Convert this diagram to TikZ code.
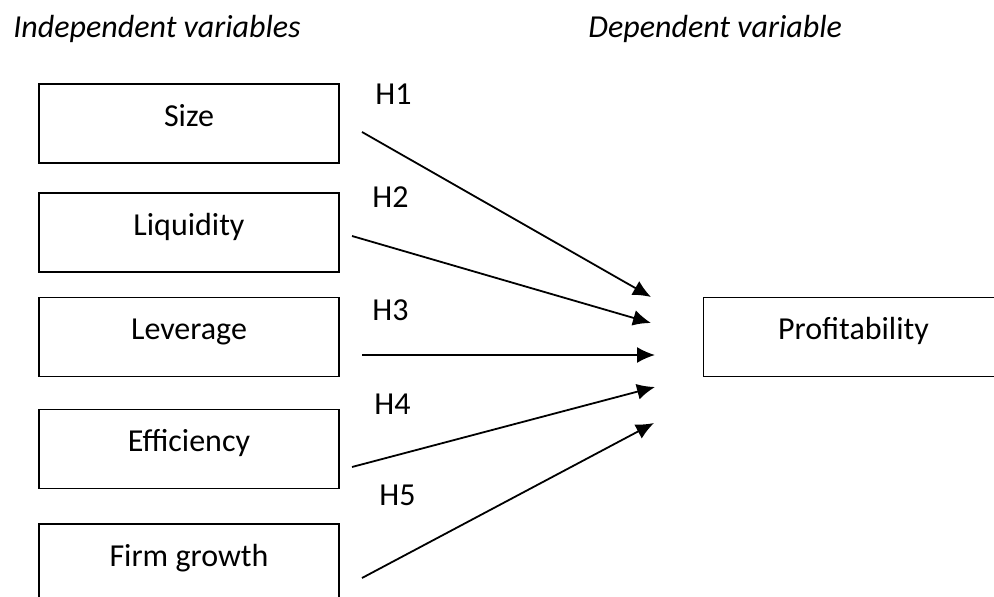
\documentclass[tikz,border=0pt]{standalone}
\usepackage{fontspec}
\setmainfont{Carlito}
\usetikzlibrary{arrows.meta}
\begin{document}
\begin{tikzpicture}[x=0.5pt,y=-0.5pt]
        \tikzset{
          varbox/.style={draw,line width=0.9pt,inner sep=0mm,
            minimum width=150pt,minimum height=39.5pt,
            text height=10.5pt,text depth=7.5pt,font=\fontsize{16}{19}\selectfont},
          hyp/.style={anchor=base west,inner sep=0mm,font=\fontsize{16}{19}\selectfont},
          title/.style={anchor=base west,inner sep=0mm,font=\fontsize{16}{19}\selectfont\itshape},
          path/.style={line width=0.9pt,-{Latex[length=9pt,width=8pt]}}
        }
        \clip (0,0) rectangle (994,597);
        \useasboundingbox (0,0) rectangle (994,597);

        %TITLES
        \node[title] (indep) at (13,38) {Independent variables};
        \node[title] (dep) at (588,38) {Dependent variable};

        %BOXES
        \node[varbox] (size) at (189,123.5) {Size};
        \node[varbox] (liquidity) at (189,232.5) {Liquidity};
        \node[varbox] (leverage) at (189,337) {Leverage};
        \node[varbox] (efficiency) at (189,449) {Efficiency};
        \node[varbox] (growth) at (189,563.5) {Firm growth};
        \node[varbox] (profit) at (853.5,337) {Profitability};

        %ARROW ENDS
        \coordinate (s1) at (362,132);  \coordinate (e1) at (651,297);
        \coordinate (s2) at (352,236);  \coordinate (e2) at (651,323);
        \coordinate (s3) at (362,355);  \coordinate (e3) at (655,355);
        \coordinate (s4) at (352,467);  \coordinate (e4) at (655,387);
        \coordinate (s5) at (362,578);  \coordinate (e5) at (654,423);

        \draw[path] (s1) -- (e1);
        \draw[path] (s2) -- (e2);
        \draw[path] (s3) -- (e3);
        \draw[path] (s4) -- (e4);
        \draw[path] (s5) -- (e5);

        %HYPOTHESES
        \node[hyp] (h1) at (375,105) {H1};
        \node[hyp] (h2) at (372,208) {H2};
        \node[hyp] (h3) at (372,321) {H3};
        \node[hyp] (h4) at (374,415) {H4};
        \node[hyp] (h5) at (379,506) {H5};
    \end{tikzpicture}
\end{document}
